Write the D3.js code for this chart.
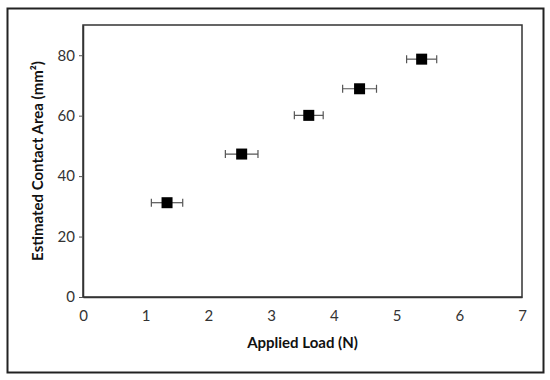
<!DOCTYPE html>
<html>
<head>
<meta charset="utf-8">
<script src="https://cdn.jsdelivr.net/npm/d3@7"></script>
<style>
  html, body { margin: 0; padding: 0; background: #fff; }
  svg { display: block; }
</style>
</head>
<body>
<svg id="chart" width="550" height="380"></svg>
<script>
// Data
const loadN      = [1.34, 2.53, 3.60, 4.41, 5.40];
const areaMm2    = [31.2, 47.3, 60.1, 68.9, 78.7];
const loadErr    = [0.25, 0.26, 0.23, 0.27, 0.24];
const xTicks     = [0, 1, 2, 3, 4, 5, 6, 7];
const yTicks     = [0, 20, 40, 60, 80];
const xTitle     = "Applied Load (N)";
const yTitle     = "Estimated Contact Area (mm²)";

const svg = d3.select("#chart");
const W = 550, H = 380;
const m = { left: 83, right: 28, top: 25, bottom: 83 };
const pw = W - m.left - m.right, ph = H - m.top - m.bottom;
const font = "Lato, 'Open Sans', sans-serif";

// outer frame
svg.append("rect").attr("x", 7.5).attr("y", 8.5).attr("width", 536).attr("height", 364)
  .attr("fill", "#fff").attr("stroke", "#222").attr("stroke-width", 2);

const x = d3.scaleLinear().domain([0, 7]).range([0, pw]);
const y = d3.scaleLinear().domain([0, 90]).range([ph, 0]);

const g = svg.append("g").attr("transform", `translate(${m.left},${m.top})`);

// plot frame
g.append("rect").attr("x", 0).attr("y", 0).attr("width", pw).attr("height", ph)
  .attr("fill", "none").attr("stroke", "#333").attr("stroke-width", 1.5);

// y axis
const yAxis = g.append("g").call(d3.axisLeft(y).tickValues(yTicks).tickFormat(d3.format("d"))
  .tickSizeInner(4).tickSizeOuter(0).tickPadding(4));
yAxis.select(".domain").attr("stroke", "#333").attr("stroke-width", 1.5);
yAxis.selectAll(".tick line").attr("stroke", "#555");
yAxis.selectAll("text").attr("font-family", font).attr("font-size", 15).attr("fill", "#333");

// x axis
const xAxis = g.append("g").attr("transform", `translate(0,${ph})`)
  .call(d3.axisBottom(x).tickValues(xTicks).tickFormat(d3.format("d"))
    .tickSizeInner(0).tickSizeOuter(0).tickPadding(13));
xAxis.select(".domain").attr("stroke", "#333").attr("stroke-width", 1.5);
xAxis.selectAll("text").attr("font-family", font).attr("font-size", 15).attr("fill", "#333");

// titles
svg.append("text").attr("x", m.left + pw / 2).attr("y", 348)
  .attr("text-anchor", "middle").attr("font-family", font).attr("font-weight", "bold")
  .attr("font-size", 15).attr("fill", "#111").text(xTitle);
svg.append("text").attr("transform", `translate(43,${m.top + ph / 2}) rotate(-90)`)
  .attr("text-anchor", "middle").attr("font-family", font).attr("font-weight", "bold")
  .attr("font-size", 15).attr("fill", "#111").text(yTitle);

const data = loadN.map((v, i) => ({ x: v, y: areaMm2[i], e: loadErr[i] }));

// error bars
const eb = g.append("g").attr("stroke", "#555").attr("stroke-width", 1.2);
data.forEach(d => {
  const cy = y(d.y), x0 = x(d.x - d.e), x1 = x(d.x + d.e);
  eb.append("line").attr("x1", x0).attr("x2", x1).attr("y1", cy).attr("y2", cy);
  eb.append("line").attr("x1", x0).attr("x2", x0).attr("y1", cy - 4).attr("y2", cy + 4);
  eb.append("line").attr("x1", x1).attr("x2", x1).attr("y1", cy - 4).attr("y2", cy + 4);
});

// markers
const s = 11;
g.append("g").selectAll("rect").data(data).join("rect")
  .attr("x", d => x(d.x) - s / 2).attr("y", d => y(d.y) - s / 2)
  .attr("width", s).attr("height", s).attr("fill", "#000");
</script>
</body>
</html>
